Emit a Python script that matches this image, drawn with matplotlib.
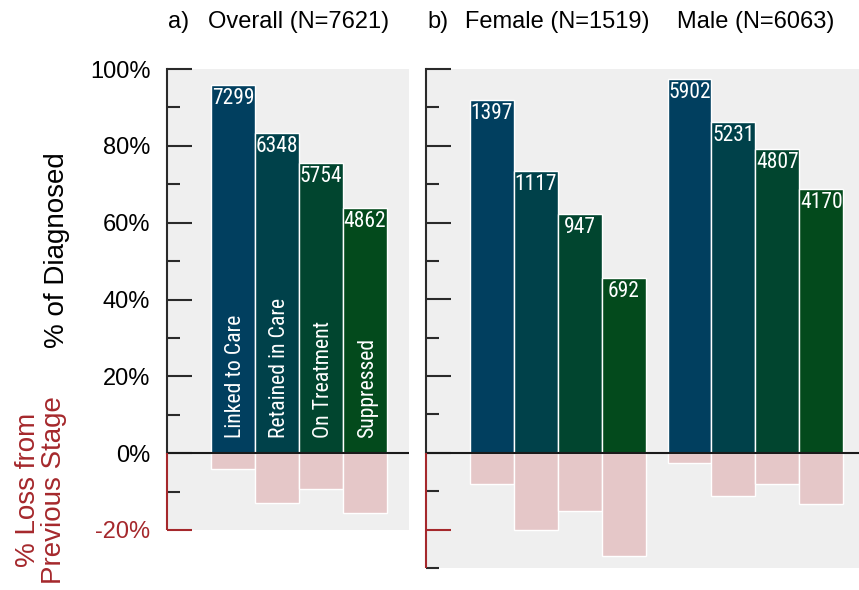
import numpy as np
import matplotlib
matplotlib.use("Agg")
import matplotlib.pyplot as plt
import matplotlib.font_manager as fm

# ---------------- data ----------------
stages = ["Linked to Care", "Retained in Care", "On Treatment", "Suppressed"]
overall_n = 7621
overall_counts = [7299, 6348, 5754, 4862]
female_n = 1519
female_counts = [1397, 1117, 947, 692]
male_n = 6063
male_counts = [5902, 5231, 4807, 4170]

pos_ticks = [0, 20, 40, 60, 80, 100]
left_neg_ticks = [-20]
left_neg_minor = [-10]
right_neg_ticks = [-20]
right_neg_minor = [-10, -30]

# ---------------- style ----------------
bar_colors = ["#013F5F", "#00414A", "#01452F", "#034A1C"]
loss_color = "#E5C7C8"
bg_color = "#EFEFEF"
red = "#A5282C"
spine_col = "#2a2a2a"

plt.rcParams["font.family"] = ["Liberation Sans", "DejaVu Sans"]

names = {f.name for f in fm.fontManager.ttflist}
cond_family, cond_stretch = None, "normal"
for cand in ["Liberation Sans Narrow", "Roboto Condensed", "DejaVu Sans Condensed",
             "Open Sans Condensed", "Noto Sans Condensed"]:
    if cand in names:
        cond_family = cand
        break
if cond_family is None:
    for f in fm.fontManager.ttflist:
        if str(f.stretch) in ("condensed", "semi-condensed", "extra-condensed"):
            cond_family, cond_stretch = f.name, f.stretch
            break
if cond_family is None:
    cond_family = "Liberation Sans"
cond_font = dict(family=[cond_family, "DejaVu Sans"], stretch=cond_stretch)


def pct_and_loss(n, counts):
    counts = np.asarray(counts, dtype=float)
    prev = np.concatenate([[n], counts[:-1]])
    return counts / n * 100, (prev - counts) / prev * 100


fig = plt.figure(figsize=(8.59, 5.90), dpi=100)
W, H = 859, 590


def px_axes(x0, y0, x1, y1):
    return fig.add_axes([x0 / W, 1 - y1 / H, (x1 - x0) / W, (y1 - y0) / H])


def style_axes(ax, ylo, neg_major, neg_minor, labels):
    ax.set_facecolor(bg_color)
    for s in ["top", "right", "bottom"]:
        ax.spines[s].set_visible(False)
    ax.spines["left"].set_bounds(0, 100)
    ax.spines["left"].set_color(spine_col)
    ax.spines["left"].set_linewidth(1.5)
    ax.set_ylim(ylo, 100)
    xl = ax.get_xlim()[0]
    ax.vlines(xl, ylo, 0, color=red, lw=1.5, clip_on=False, zorder=5)
    ax.set_yticks(neg_major + pos_ticks)
    minor = neg_minor + [10, 30, 50, 70, 90]
    ax.set_yticks(minor, minor=True)
    ax.tick_params(axis="y", which="major", direction="in", length=18, width=1.5,
                   color=spine_col, pad=12, labelsize=17)
    ax.tick_params(axis="y", which="minor", direction="in", length=9, width=1.5,
                   color=spine_col)
    ax.tick_params(axis="x", bottom=False, labelbottom=False)
    if labels:
        ax.set_yticklabels([f"{t}%" for t in neg_major + pos_ticks])
    else:
        ax.set_yticklabels([])
    for t in ax.yaxis.get_major_ticks() + ax.yaxis.get_minor_ticks():
        if t.get_loc() < 0:
            t.tick1line.set_color(red)
            t.tick1line.set_markeredgecolor(red)
            t.label1.set_color(red)
    ax.axhline(0, color="#1a1a1a", lw=1.5, zorder=4)


def draw_group(ax, x, n, counts, stage_labels=False):
    pct, loss = pct_and_loss(n, counts)
    ax.bar(x, pct, width=1.0, color=bar_colors, edgecolor="white", linewidth=1.0, zorder=2)
    ax.bar(x, -loss, width=1.0, color=loss_color, edgecolor="white", linewidth=1.0, zorder=2)
    for xi, p, c in zip(x, pct, counts):
        ax.text(xi, p - 0.8, f"{c}", ha="center", va="top", color="white",
                fontsize=15.5, zorder=6, **cond_font)
    if stage_labels:
        for xi, s in zip(x, stages):
            ax.text(xi + 0.05, 4, s, rotation=90, ha="center", va="bottom",
                    color="white", fontsize=15.7, zorder=6, **cond_font)


# ---------------- left panel ----------------
axL = px_axes(167, 69, 409, 530)
axL.set_xlim(-1.5, 4.0)
x_over = np.arange(len(stages))
draw_group(axL, x_over, overall_n, overall_counts, stage_labels=True)
style_axes(axL, -20, left_neg_ticks, left_neg_minor, labels=True)

# ---------------- right panel ----------------
axR = px_axes(426, 69, 859, 568)
axR.set_xlim(-1.5, 8.36)
x_f = np.arange(len(stages))
x_m = np.arange(len(stages)) + len(stages) + 0.5
draw_group(axR, x_f, female_n, female_counts)
draw_group(axR, x_m, male_n, male_counts)
style_axes(axR, -30, right_neg_ticks, right_neg_minor, labels=False)

# ---------------- titles & axis labels ----------------
ty = 1 - 22 / H
fig.text(168 / W, ty, "a)", fontsize=17, va="center", ha="left")
fig.text(208 / W, ty, "Overall (N=7621)", fontsize=17, va="center", ha="left")
fig.text(427 / W, ty, "b)", fontsize=17, va="center", ha="left")
fig.text(465 / W, ty, "Female (N=1519)", fontsize=17, va="center", ha="left")
fig.text(677 / W, ty, "Male (N=6063)", fontsize=17, va="center", ha="left")

fig.text(57 / W, 1 - 250 / H, "% of Diagnosed", rotation=90, fontsize=20,
         ha="center", va="center", color="black")
fig.text(41 / W, 1 - 490 / H, "% Loss from\nPrevious Stage", rotation=90, fontsize=20,
         ha="center", va="center", color=red, multialignment="center", linespacing=1.0)

fig.savefig("out.png", dpi=100)
